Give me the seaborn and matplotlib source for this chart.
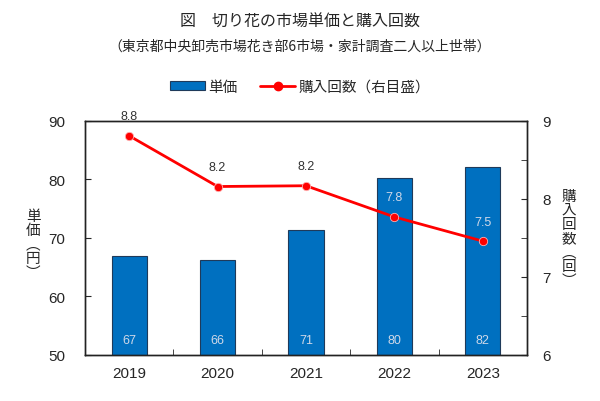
import numpy as np
import pandas as pd
import matplotlib
matplotlib.use('Agg')
import matplotlib.pyplot as plt
import seaborn as sns
from matplotlib.patches import Patch
from matplotlib.lines import Line2D

years = ['2019', '2020', '2021', '2022', '2023']
price = [67.0, 66.2, 71.3, 80.2, 82.1]
price_labels = ['67', '66', '71', '80', '82']
counts = [8.81, 8.16, 8.17, 7.77, 7.46]
count_labels = ['8.8', '8.2', '8.2', '7.8', '7.5']

sns.set_style('ticks')
plt.rcParams['font.family'] = ['Liberation Sans', 'Noto Sans CJK JP']

df = pd.DataFrame({'year': years, 'price': price, 'count': counts})

fig = plt.figure(figsize=(6, 4.02), dpi=100)
ax = fig.add_axes([85/600, 1-356/402, 442/600, 234/402])

sns.barplot(data=df, x='year', y='price', ax=ax, color='#0070C0', saturation=1,
            width=0.4, edgecolor='#1f3a5a', linewidth=0.8)
ax.set_ylim(50, 90)
ax.set_yticks([50, 60, 70, 80, 90])
ax.set_xlim(-0.5, 4.5)
ax.set_xticks([0.5, 1.5, 2.5, 3.5], minor=True)
ax.set_xticks(range(5))
ax.set_xticklabels(years)
ax.tick_params(axis='x', which='major', length=0, labelsize=11, pad=8)
ax.tick_params(axis='x', which='minor', direction='in', length=4)
ax.tick_params(axis='y', direction='in', length=4, labelsize=11, pad=14)
ax.set_xlabel('')
ax.set_ylabel('')
for s in ax.spines.values():
    s.set_linewidth(1.0)
    s.set_color('#222222')

for i, t in enumerate(price_labels):
    ax.text(i, 52.5, t, ha='center', va='center', fontsize=9, color='#cfd8e8')

ax2 = ax.twinx()
sns.pointplot(data=df, x='year', y='count', ax=ax2, color='#ff0000',
              markersize=6, linewidth=2, markeredgecolor='#ffb0b0', markeredgewidth=0.6)
ax2.set_ylim(6, 9)
ax2.set_xlim(-0.5, 4.5)
ax2.set_yticks([6, 7, 8, 9])
ax2.set_yticks([6.5, 7.5, 8.5], minor=True)
ax2.tick_params(axis='y', which='both', direction='in', length=4, labelsize=11, pad=11)
ax2.set_ylabel('')
ax2.set_xlabel('')
for s in ax2.spines.values():
    s.set_linewidth(1.0)
    s.set_color('#222222')

for i, t in enumerate(count_labels):
    c = '#cfd8e8' if i >= 3 else '#333333'
    ax2.text(i, counts[i] + 0.25, t, ha='center', va='center', fontsize=9, color=c,
             clip_on=False)

fig.text(33/600, 1-245/402, '単\n価\n︵\n円\n︶', ha='center', va='center',
         fontsize=10.5, linespacing=1.0, family=['Noto Sans CJK JP'])
fig.text(569/600, 1-239/402, '購\n入\n回\n数\n︵\n回\n︶', ha='center', va='center',
         fontsize=10.5, linespacing=1.0, family=['Noto Sans CJK JP'])

fig.text(0.5, 1-22/402, '図　切り花の市場単価と購入回数', ha='center', va='center',
         fontsize=11.5, family=['Noto Sans CJK JP'])
fig.text(0.5, 1-47/402, '（東京都中央卸売市場花き部6市場・家計調査二人以上世帯）', ha='center',
         va='center', fontsize=10, family=['Noto Sans CJK JP', 'Liberation Sans'])

handles = [Patch(facecolor='#0070C0', edgecolor='#1f3a5a', linewidth=0.8),
           Line2D([0], [0], color='#ff0000', lw=2, marker='o', markersize=6)]
fig.legend(handles, ['単価', '購入回数（右目盛）'], loc='center', bbox_to_anchor=(0.5, 1-88/402),
           ncol=2, frameon=False, handlelength=2.4, handleheight=0.6,
           columnspacing=1.6, handletextpad=0.2, prop={'family': ['Noto Sans CJK JP'], 'size': 10.5})

fig.savefig('out.png', dpi=100)
